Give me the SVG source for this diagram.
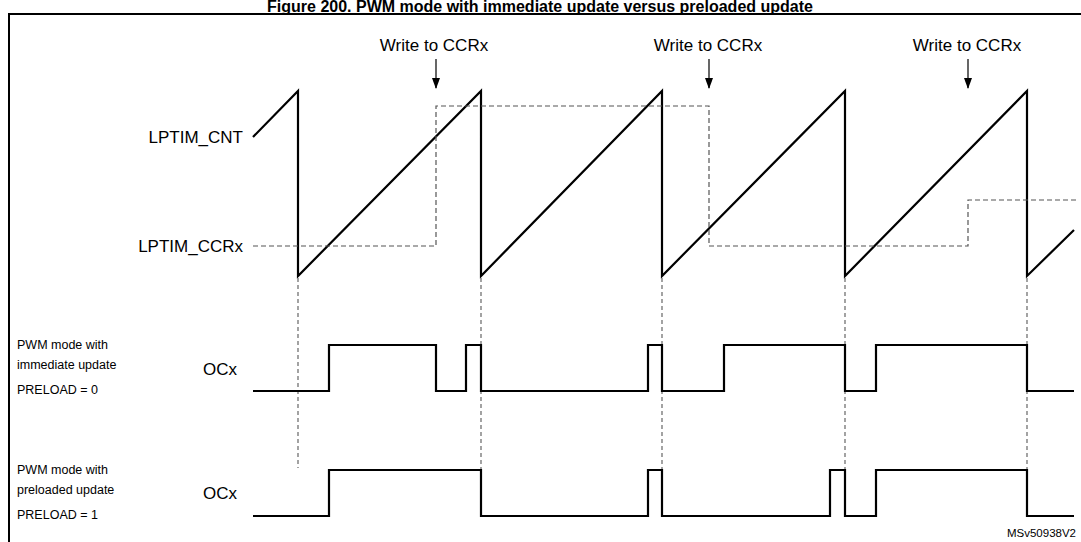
<svg xmlns="http://www.w3.org/2000/svg" width="1081" height="542" viewBox="0 0 1081 542">
<defs>
<style>
text{font-family:"Liberation Sans",Arial,sans-serif;fill:#000}
.w{fill:none;stroke:#000;stroke-width:2.2}
.d{fill:none;stroke:#555;stroke-width:1.2;stroke-dasharray:5,3}
.g{fill:none;stroke:#666;stroke-width:1.2;stroke-dasharray:4,3}
.lab{font-size:17px}
.sm{font-size:12.5px}
</style>
<marker id="ar" markerWidth="10" markerHeight="12" refX="5" refY="10" orient="0" markerUnits="userSpaceOnUse" viewBox="0 0 10 12"><path d="M1,0 L9,0 L5,11 Z" fill="#000"/></marker>
</defs>
<rect width="1081" height="542" fill="#fff"/>
<text x="540" y="12" font-size="16" font-weight="bold" text-anchor="middle">Figure 200. PWM mode with immediate update versus preloaded update</text>
<path d="M9,542 V14 H1081" fill="none" stroke="#000" stroke-width="2"/>
<g id="labels">
<text class="lab" x="243" y="143" text-anchor="end">LPTIM_CNT</text>
<text class="lab" x="243" y="252" text-anchor="end">LPTIM_CCRx</text>
<text class="lab" x="434" y="51" text-anchor="middle">Write to CCRx</text>
<text class="lab" x="708" y="51" text-anchor="middle">Write to CCRx</text>
<text class="lab" x="967" y="51" text-anchor="middle">Write to CCRx</text>
<text class="sm" x="17" y="349">PWM mode with</text>
<text class="sm" x="17" y="369">immediate update</text>
<text class="sm" x="17" y="394">PRELOAD = 0</text>
<text class="lab" x="203" y="375">OCx</text>
<text class="sm" x="17" y="474">PWM mode with</text>
<text class="sm" x="17" y="494">preloaded update</text>
<text class="sm" x="17" y="519">PRELOAD = 1</text>
<text class="lab" x="203" y="499">OCx</text>
<text x="1076" y="537" font-size="11.5" text-anchor="end">MSv50938V2</text>
</g>
<g id="connectors">
<path class="w" d="M253,137 L298,91 V276 L481,91 V276 L662,91 V276 L845,91 V276 L1027,91 V276 L1074,230"/>
<path class="d" d="M253,246 H436 V106 H709 V246 H968 V200 H1076"/>
<path class="g" d="M298,278 V468 M481,278 V470 M662,278 V470 M845,278 V470 M1027,278 V470"/>
<path class="w" d="M253,391 H329 V345 H436 V391 H466 V345 H481 V391 H648 V345 H662 V391 H724 V345 H845 V391 H876 V345 H1027 V391 H1074"/>
<path class="w" d="M253,516 H329 V470 H481 V516 H648 V470 H662 V516 H830 V470 H845 V516 H876 V470 H1027 V516 H1074"/>
<g stroke="#000" stroke-width="1.2" marker-end="url(#ar)">
<line x1="436" y1="59" x2="436" y2="88"/>
<line x1="709" y1="59" x2="709" y2="88"/>
<line x1="968" y1="59" x2="968" y2="88"/>
</g>
</g>
</svg>
